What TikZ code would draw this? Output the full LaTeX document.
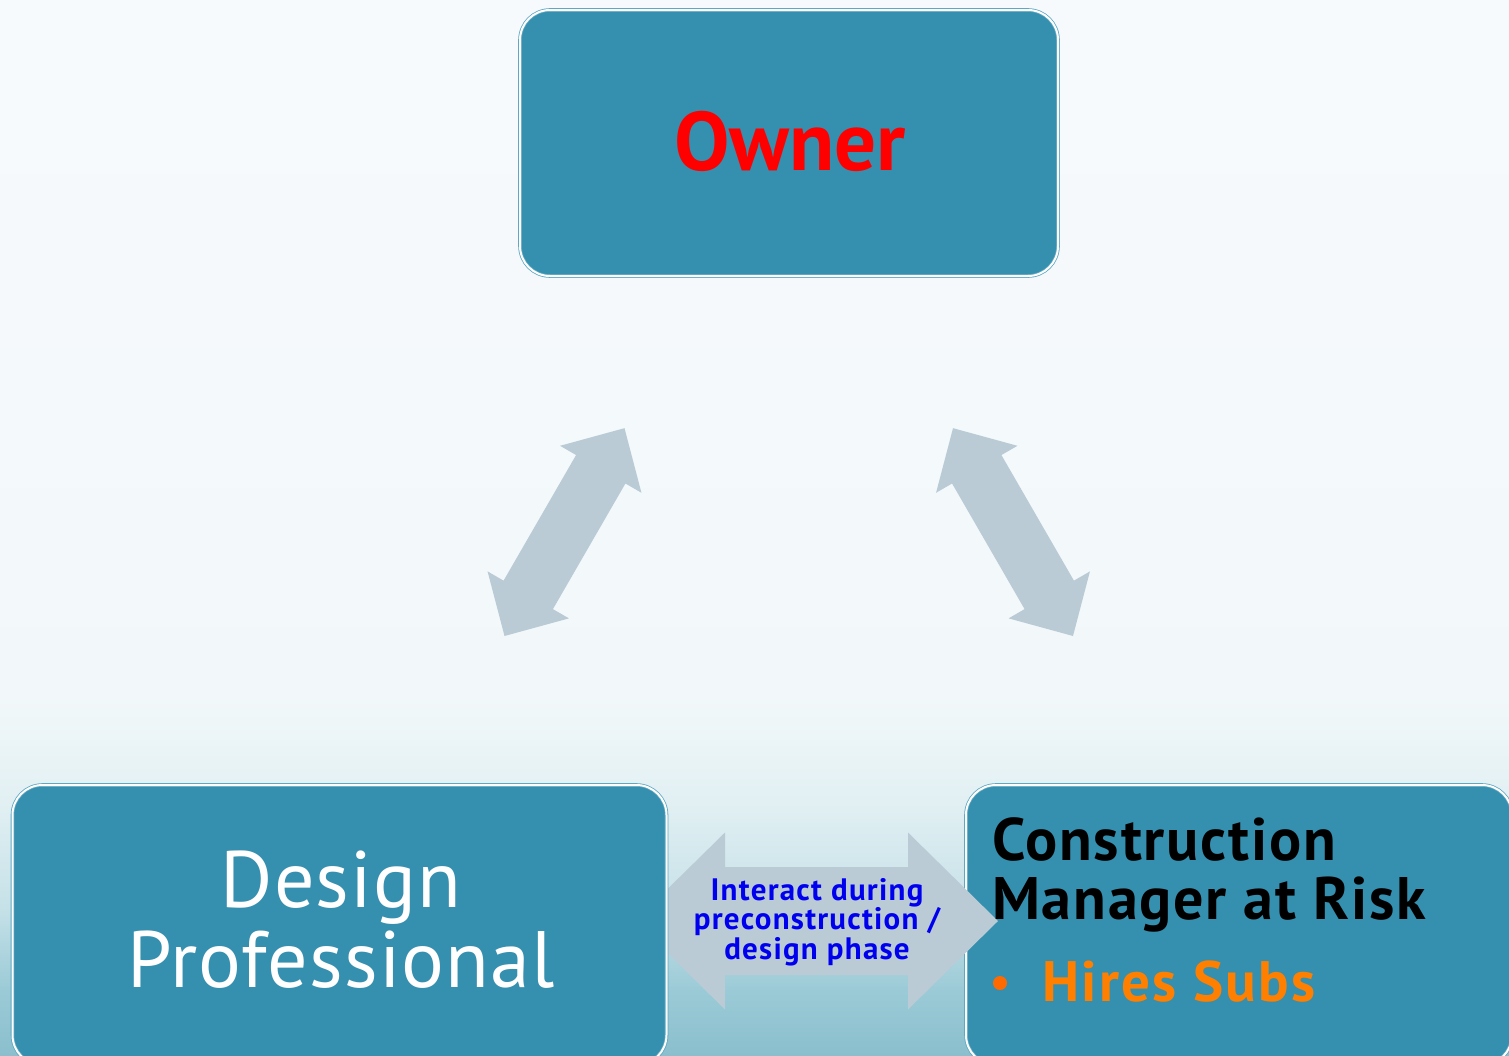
\documentclass[tikz,border=0pt]{standalone}
\usepackage{fontspec}
\setmainfont{PT Sans}
\usetikzlibrary{positioning}
\definecolor{boxteal}{HTML}{358FAF}
\definecolor{edgeteal}{HTML}{5EA8C1}
\definecolor{arrowgrey}{HTML}{BACBD6}
\definecolor{ownerred}{HTML}{FF0000}
\definecolor{subsorange}{HTML}{FF7F00}
\definecolor{dotorange}{HTML}{FF6A00}
\definecolor{phaseblue}{HTML}{0000EE}
\definecolor{bgtop}{HTML}{F7FAFD}
\definecolor{bgmid}{HTML}{F2F8FA}
\definecolor{bglow}{HTML}{E2F0F3}
\definecolor{bgsea}{HTML}{C6E1E8}
\definecolor{bgdeep}{HTML}{9ACAD6}
\definecolor{bgfloor}{HTML}{8BBFCD}
% sky-to-water backdrop (25bp = bottom edge, 75bp = top edge)
\pgfdeclareverticalshading{slidebg}{100bp}{color(0bp)=(bgfloor); color(25bp)=(bgfloor);
  color(28bp)=(bgdeep); color(32bp)=(bgsea); color(37bp)=(bglow); color(42bp)=(bgmid);
  color(75bp)=(bgtop); color(100bp)=(bgtop)}
\tikzset{
  rolebox/.style={rectangle, rounded corners=30pt, fill=boxteal, draw=edgeteal,
    double=white, double distance=2pt, line width=0.8pt},
  lab/.style={inner sep=0pt, anchor=base},
  pics/dblarrow/.style n args={4}{code={
    % length, half shaft, half head, head length
    \fill[arrowgrey] (0,0) -- (#4,#3) -- (#4,#2) -- (#1-#4,#2) -- (#1-#4,#3) -- (#1,0)
      -- (#1-#4,-#3) -- (#1-#4,-#2) -- (#4,-#2) -- (#4,-#3) -- cycle;
  }},
}

\begin{document}
\begin{tikzpicture}[x=1pt, y=-1pt]
  \useasboundingbox (0,0) rectangle (1509,1055);
  \shade[shading=slidebg] (0,0) rectangle (1509,1055);

  % the three parties
  \node[rolebox, minimum width=546, minimum height=280] (cm) at (1239,925) {};
  \coordinate (hleft) at (635,921);
  \pic at (hleft) {dblarrow={363}{54}{88.5}{90}};
  \node[rolebox, minimum width=654, minimum height=280] (design) at (339.5,925) {};
  \node[rolebox, minimum width=538, minimum height=266] (owner) at (789,143) {};

  % owner links
  \coordinate (ldbot) at (504.5,636);
  \coordinate (rdbot) at (1073,636);
  \pic[rotate=60] at (ldbot) {dblarrow={240}{28.5}{47}{47.5}};
  \pic[rotate=120] at (rdbot) {dblarrow={240}{28.5}{47}{47.5}};

  % labels (multi-line ones sit on their last baseline)
  \node[lab, text=ownerred, font=\fontsize{83}{83}\selectfont\bfseries] (ownertxt)
    at (790,170) {Owner};
  \node[lab, text=white, align=center,
    font=\fontsize{80}{80}\selectfont\addfontfeatures{LetterSpace=1.5}] (designtxt)
    at (341,987) {Design\\Professional};
  \node[lab, anchor=base west, align=left,
    font=\fontsize{60}{59}\selectfont\bfseries\addfontfeatures{LetterSpace=3}]
    (cmtxt) at (992,919) {Construction\\Manager at Risk};
  \node[lab, anchor=base west, text=subsorange,
    font=\fontsize{57}{57}\selectfont\bfseries\addfontfeatures{LetterSpace=4}]
    (subs) at (1042,1001) {Hires Subs};
  \fill[dotorange] (1000,983) circle (7);
  \node[lab, text=phaseblue, align=center,
    font=\fontsize{31}{29.5}\selectfont\bfseries\addfontfeatures{LetterSpace=4}]
    (phase) at (817,959) {Interact during\\preconstruction /\\design phase};
\end{tikzpicture}
\end{document}
